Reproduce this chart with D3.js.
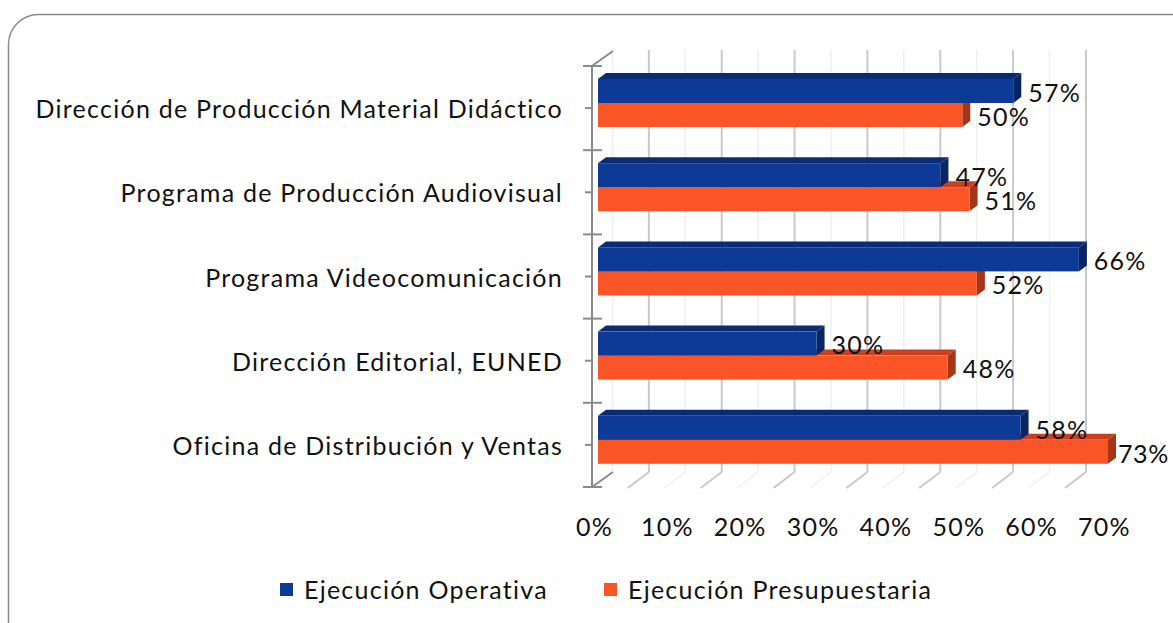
<!DOCTYPE html>
<html>
<head>
<meta charset="utf-8">
<script src="https://cdn.jsdelivr.net/npm/d3@7"></script>
<style>
  body { margin: 0; background: #fff; }
  text { font-family: Lato, "Open Sans", sans-serif; fill: #111; letter-spacing: 1.25px; }
</style>
</head>
<body>
<svg id="canvas"></svg>
<script>
const categories = [
  "Dirección de Producción Material Didáctico",
  "Programa de Producción Audiovisual",
  "Programa Videocomunicación",
  "Dirección Editorial, EUNED",
  "Oficina de Distribución y Ventas"
];
const seriesNames = ["Ejecución Operativa", "Ejecución Presupuestaria"];
const operativa = [57, 47, 66, 30, 58];
const presupuestaria = [50, 51, 52, 48, 73];
const xTicks = [0, 10, 20, 30, 40, 50, 60, 70];

const width = 1173;
const height = 623;
const depthX = 8, depthY = -6;
const fontSize = 25;
const xMax = 70;
const colors = {
  "Ejecución Operativa": { front: "#0e3a97", top: "#0b2c74", side: "#0a2563" },
  "Ejecución Presupuestaria": { front: "#fb5426", top: "#c6421e", side: "#a33619" }
};

const svg = d3.select("#canvas")
  .attr("width", width)
  .attr("height", height);

// frame
svg.append("rect")
   .attr("x", 8.5).attr("y", 14.5)
   .attr("width", 1230).attr("height", 680)
   .attr("rx", 30)
   .attr("fill", "none")
   .attr("stroke", "#8c8c8c")
   .attr("stroke-width", 1.5);

const xScale = d3.scaleLinear().domain([0, xMax]).range([598, 1108]);
const yScale = d3.scaleBand().domain(categories).range([66, 487]);
const inner = d3.scaleBand().domain(seriesNames).range([13, 61]);

const wallTop = 50, wallBottom = 472, floorFront = 488;
const gridShift = -22;

// gridlines on back wall and floor
const minor = xTicks.slice(0, -1).map(v => v + 5);
const major = xTicks.slice(1);
[[minor, "#efefef", 1.5], [major, "#c9c9c9", 2]].forEach(([vals, col, sw]) => {
  svg.append("g").selectAll("line.v")
     .data(vals).enter().append("line")
     .attr("x1", d => xScale(d) + gridShift).attr("x2", d => xScale(d) + gridShift)
     .attr("y1", wallTop).attr("y2", wallBottom)
     .attr("stroke", col).attr("stroke-width", sw);
  svg.append("g").selectAll("line.f")
     .data(vals).enter().append("line")
     .attr("x1", d => xScale(d) + gridShift).attr("y1", wallBottom)
     .attr("x2", d => xScale(d) + gridShift - 21).attr("y2", floorFront)
     .attr("stroke", col).attr("stroke-width", sw);
});

// vertical axis
const axisX = 592;
const axisG = svg.append("g").attr("stroke", "#8a8a8a").attr("stroke-width", 2);
axisG.append("line").attr("x1", axisX).attr("x2", axisX).attr("y1", 66).attr("y2", 487);
axisG.append("line").attr("x1", axisX).attr("y1", 66).attr("x2", axisX + 21).attr("y2", 51);
axisG.append("line").attr("x1", axisX).attr("y1", 487).attr("x2", axisX + 21).attr("y2", 472);
const bounds = categories.map(c => yScale(c)).concat([yScale.range()[1]]);
axisG.selectAll("line.major").data(bounds).enter().append("line")
     .attr("x1", axisX - 9).attr("x2", axisX + 10)
     .attr("y1", d => d).attr("y2", d => d);
axisG.selectAll("line.minor").data(categories).enter().append("line")
     .attr("x1", axisX - 7).attr("x2", axisX + 1)
     .attr("y1", d => yScale(d) + yScale.bandwidth() / 2)
     .attr("y2", d => yScale(d) + yScale.bandwidth() / 2);

// category labels
const yAxis = d3.axisLeft(yScale).tickSize(0).tickPadding(29);
const yG = svg.append("g").attr("transform", `translate(${axisX}, 2)`).call(yAxis);
yG.select(".domain").remove();
yG.selectAll("text").attr("font-size", fontSize).attr("fill", "#111")
  .style("font-family", "Lato, sans-serif");

// x tick labels
const xAxis = d3.axisBottom(xScale).tickValues(xTicks).tickFormat(d => d + "%").tickSize(0);
const xG = svg.append("g").attr("transform", "translate(-4, 527)").call(xAxis);
xG.select(".domain").remove();
xG.selectAll("text").attr("y", 0).attr("dy", "0.35em").attr("font-size", fontSize)
  .attr("fill", "#111").style("font-family", "Lato, sans-serif");

// bars (values past the axis max are cut at the max, as in the original)
const rows = [];
categories.forEach((c, i) => {
  rows.push({ cat: c, s: seriesNames[1], v: presupuestaria[i] });
  rows.push({ cat: c, s: seriesNames[0], v: operativa[i] });
});

const barG = svg.append("g");
rows.forEach(r => {
  const x0 = xScale(0);
  const x1 = xScale(Math.min(r.v, xMax));
  const yt = yScale(r.cat) + inner(r.s);
  const yb = yt + inner.bandwidth();
  const col = colors[r.s];
  const g = barG.append("g");
  g.append("polygon")
   .attr("points", [[x0, yt], [x0 + depthX, yt + depthY], [x1 + depthX, yt + depthY], [x1, yt]].join(" "))
   .attr("fill", col.top);
  g.append("polygon")
   .attr("points", [[x1, yt], [x1 + depthX, yt + depthY], [x1 + depthX, yb + depthY], [x1, yb]].join(" "))
   .attr("fill", col.side);
  g.append("rect")
   .attr("x", x0).attr("y", yt)
   .attr("width", x1 - x0).attr("height", yb - yt)
   .attr("fill", col.front);
});

// value labels
svg.append("g").selectAll("text")
   .data(rows).enter().append("text")
   .attr("x", d => xScale(Math.min(d.v, xMax)) + (d.v > xMax ? 10 : 15))
   .attr("y", d => yScale(d.cat) + inner(d.s) + inner.bandwidth() / 2 + 2)
   .attr("dy", "0.35em")
   .attr("font-size", fontSize)
   .style("letter-spacing", d => d.v > xMax ? "0.6px" : null)
   .text(d => d.v + "%");

// legend
const legend = svg.append("g").attr("transform", "translate(280, 590)");
const legX = [0, 324];
seriesNames.forEach((s, i) => {
  legend.append("rect").attr("x", legX[i]).attr("y", -7)
        .attr("width", 13).attr("height", 13).attr("fill", colors[s].front);
  legend.append("text").attr("x", legX[i] + 24).attr("y", 0).attr("dy", "0.35em")
        .attr("font-size", fontSize).text(s);
});
</script>
</body>
</html>
